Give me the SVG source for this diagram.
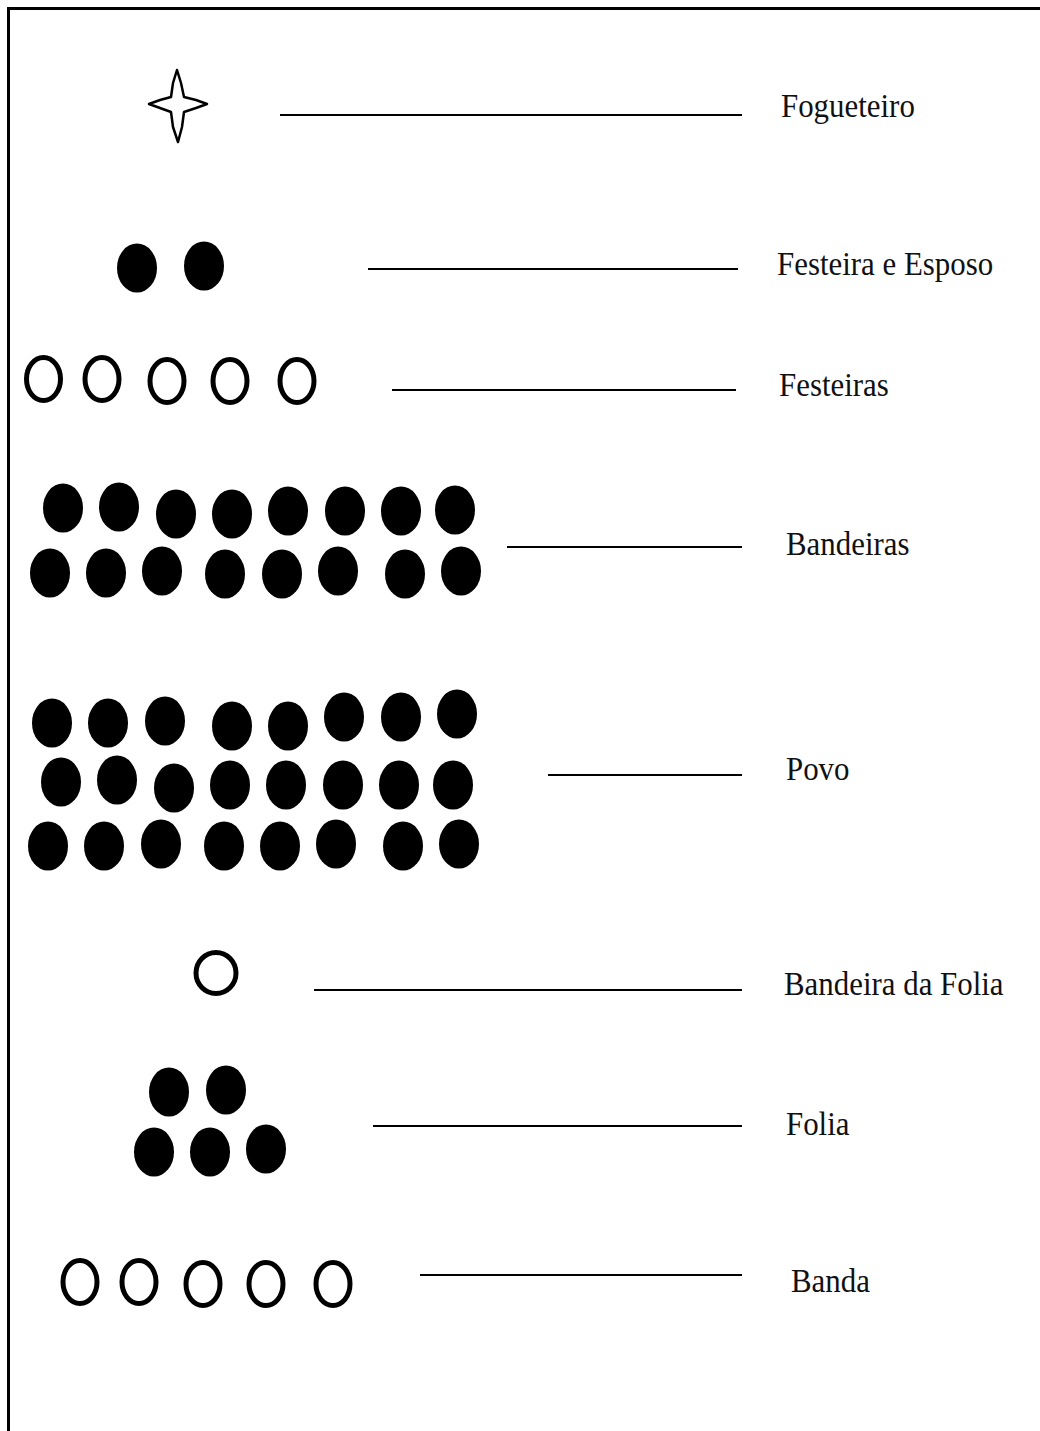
<svg xmlns="http://www.w3.org/2000/svg" width="1040" height="1431" viewBox="0 0 1040 1431">
<style>
.lbl{font-family:"Liberation Serif","Times New Roman",serif;font-size:30px;fill:#111}
.f{fill:#000}
.o{fill:#fff;stroke:#000;stroke-width:5}
.ln{stroke:#000;stroke-width:2;fill:none}
.bd{stroke:#000;stroke-width:3;fill:none}
</style>
<rect x="0" y="0" width="1040" height="1431" fill="#fff"/>
<g id="border">
<line class="bd" x1="7" y1="8.5" x2="1040" y2="8.5"/>
<line class="bd" x1="8.5" y1="7" x2="8.5" y2="1431"/>
</g>
<g id="connectors">
<line class="ln" x1="280" y1="115" x2="742" y2="115"/>
<line class="ln" x1="368" y1="269" x2="738" y2="269"/>
<line class="ln" x1="392" y1="390" x2="736" y2="390"/>
<line class="ln" x1="507" y1="547" x2="742" y2="547"/>
<line class="ln" x1="548" y1="775" x2="742" y2="775"/>
<line class="ln" x1="314" y1="990" x2="742" y2="990"/>
<line class="ln" x1="373" y1="1126" x2="742" y2="1126"/>
<line class="ln" x1="420" y1="1275" x2="742" y2="1275"/>
</g>
<g id="fogueteiro">
<path d="M177,70 L173,83 L171,97 L160,100 L149,104 L160,108 L171,112 L173,127 L178,142 L182,127 L184,112 L196,108 L207,104 L196,100 L184,97 L181,83 Z" fill="#fff" stroke="#000" stroke-width="2.5" stroke-linejoin="round"/>
<text class="lbl" transform="translate(781,117) scale(1.03,1.12)">Fogueteiro</text>
</g>
<g id="festeira-esposo">
<ellipse class="f" cx="137" cy="268" rx="20" ry="24.5"/>
<ellipse class="f" cx="204" cy="266" rx="20" ry="24.5"/>
<text class="lbl" transform="translate(777,275) scale(1.03,1.12)">Festeira e Esposo</text>
</g>
<g id="festeiras">
<ellipse class="o" cx="43.5" cy="379" rx="17" ry="21.5"/>
<ellipse class="o" cx="102" cy="379" rx="17" ry="21.5"/>
<ellipse class="o" cx="167" cy="381" rx="17" ry="21.5"/>
<ellipse class="o" cx="230" cy="381" rx="17" ry="21.5"/>
<ellipse class="o" cx="297" cy="381" rx="17" ry="21.5"/>
<text class="lbl" transform="translate(779,396) scale(1.03,1.12)">Festeiras</text>
</g>
<g id="bandeiras">
<ellipse class="f" cx="63" cy="508" rx="20" ry="24.5"/>
<ellipse class="f" cx="119" cy="507" rx="20" ry="24.5"/>
<ellipse class="f" cx="176" cy="514" rx="20" ry="24.5"/>
<ellipse class="f" cx="232" cy="514" rx="20" ry="24.5"/>
<ellipse class="f" cx="288" cy="511" rx="20" ry="24.5"/>
<ellipse class="f" cx="345" cy="511" rx="20" ry="24.5"/>
<ellipse class="f" cx="401" cy="511" rx="20" ry="24.5"/>
<ellipse class="f" cx="455" cy="510" rx="20" ry="24.5"/>
<ellipse class="f" cx="50" cy="573" rx="20" ry="24.5"/>
<ellipse class="f" cx="106" cy="573" rx="20" ry="24.5"/>
<ellipse class="f" cx="162" cy="571" rx="20" ry="24.5"/>
<ellipse class="f" cx="225" cy="574" rx="20" ry="24.5"/>
<ellipse class="f" cx="282" cy="574" rx="20" ry="24.5"/>
<ellipse class="f" cx="338" cy="571" rx="20" ry="24.5"/>
<ellipse class="f" cx="405" cy="574" rx="20" ry="24.5"/>
<ellipse class="f" cx="461" cy="571" rx="20" ry="24.5"/>
<text class="lbl" transform="translate(786,555) scale(1.03,1.12)">Bandeiras</text>
</g>
<g id="povo">
<ellipse class="f" cx="52" cy="723" rx="20" ry="24.5"/>
<ellipse class="f" cx="108" cy="723" rx="20" ry="24.5"/>
<ellipse class="f" cx="165" cy="721" rx="20" ry="24.5"/>
<ellipse class="f" cx="232" cy="726" rx="20" ry="24.5"/>
<ellipse class="f" cx="288" cy="726" rx="20" ry="24.5"/>
<ellipse class="f" cx="344" cy="717" rx="20" ry="24.5"/>
<ellipse class="f" cx="401" cy="717" rx="20" ry="24.5"/>
<ellipse class="f" cx="457" cy="714" rx="20" ry="24.5"/>
<ellipse class="f" cx="61" cy="782" rx="20" ry="24.5"/>
<ellipse class="f" cx="117" cy="780" rx="20" ry="24.5"/>
<ellipse class="f" cx="174" cy="788" rx="20" ry="24.5"/>
<ellipse class="f" cx="230" cy="785" rx="20" ry="24.5"/>
<ellipse class="f" cx="286" cy="785" rx="20" ry="24.5"/>
<ellipse class="f" cx="343" cy="785" rx="20" ry="24.5"/>
<ellipse class="f" cx="399" cy="785" rx="20" ry="24.5"/>
<ellipse class="f" cx="453" cy="785" rx="20" ry="24.5"/>
<ellipse class="f" cx="48" cy="846" rx="20" ry="24.5"/>
<ellipse class="f" cx="104" cy="846" rx="20" ry="24.5"/>
<ellipse class="f" cx="161" cy="844" rx="20" ry="24.5"/>
<ellipse class="f" cx="224" cy="846" rx="20" ry="24.5"/>
<ellipse class="f" cx="280" cy="846" rx="20" ry="24.5"/>
<ellipse class="f" cx="336" cy="844" rx="20" ry="24.5"/>
<ellipse class="f" cx="403" cy="846" rx="20" ry="24.5"/>
<ellipse class="f" cx="459" cy="844" rx="20" ry="24.5"/>
<text class="lbl" transform="translate(786,780) scale(1.03,1.12)">Povo</text>
</g>
<g id="bandeira-da-folia">
<ellipse class="o" cx="216" cy="973" rx="20" ry="20.5"/>
<text class="lbl" transform="translate(784,995) scale(1.03,1.12)">Bandeira da Folia</text>
</g>
<g id="folia">
<ellipse class="f" cx="169" cy="1092" rx="20" ry="24.5"/>
<ellipse class="f" cx="226" cy="1090" rx="20" ry="24.5"/>
<ellipse class="f" cx="154" cy="1152" rx="20" ry="24.5"/>
<ellipse class="f" cx="210" cy="1152" rx="20" ry="24.5"/>
<ellipse class="f" cx="266" cy="1149" rx="20" ry="24.5"/>
<text class="lbl" transform="translate(786,1135) scale(1.03,1.12)">Folia</text>
</g>
<g id="banda">
<ellipse class="o" cx="80" cy="1282" rx="17" ry="21.5"/>
<ellipse class="o" cx="139" cy="1282" rx="17" ry="21.5"/>
<ellipse class="o" cx="203" cy="1284" rx="17" ry="21.5"/>
<ellipse class="o" cx="266" cy="1284" rx="17" ry="21.5"/>
<ellipse class="o" cx="333" cy="1284" rx="17" ry="21.5"/>
<text class="lbl" transform="translate(791,1292) scale(1.03,1.12)">Banda</text>
</g>
</svg>
